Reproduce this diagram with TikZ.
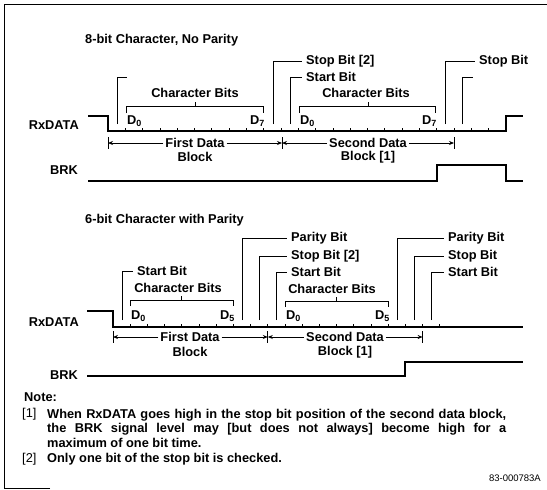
\documentclass[tikz,border=0pt]{standalone}
\usepackage{fontspec}
\setmainfont{Liberation Sans}
\usepackage{tikz}
\usetikzlibrary{arrows.meta}

\tikzset{
  sigline/.style={line width=2.2pt},
  bitmark/.style={line width=0.8pt},
  lbl/.style={font=\bfseries\fontsize{12.8}{14.5}\selectfont, inner sep=0pt},
  tag/.style={lbl, anchor=west, inner xsep=4pt},
  span/.style={line width=0.8pt, -{Stealth[length=5pt, width=4pt]}},
}

\begin{document}
\begin{tikzpicture}[x=1pt, y=-1pt]
    \useasboundingbox (0,0) rectangle (547,490);

    % Frame
    \draw[line width=1pt] (50,488) -- (4,488) -- (4,4) -- (547,4);

    % Title (top)
    \node[lbl, anchor=west] (title1) at (85,40) {8-bit Character, No Parity};

    % Signal names (top)
    \node[lbl, anchor=east] (rx1) at (79,125) {RxDATA};
    \node[lbl, anchor=east] (brk1) at (78,170) {BRK};

    % RxDATA (top)
    \draw[sigline] (88,116) -- (108,116) -- (108,131) -- (506,131) -- (506,116) -- (523,116);
    \draw[bitmark] (125.3,131) -- ++(0,-3) (142.6,131) -- ++(0,-3) (159.9,131) -- ++(0,-3)
        (177.2,131) -- ++(0,-3) (194.5,131) -- ++(0,-3) (211.8,131) -- ++(0,-3)
        (229.1,131) -- ++(0,-3) (246.4,131) -- ++(0,-3) (263.7,131) -- ++(0,-3)
        (281,131) -- ++(0,-3) (298.3,131) -- ++(0,-3) (315.6,131) -- ++(0,-3)
        (332.9,131) -- ++(0,-3) (350.2,131) -- ++(0,-3) (367.5,131) -- ++(0,-3)
        (384.8,131) -- ++(0,-3) (402.1,131) -- ++(0,-3) (419.4,131) -- ++(0,-3)
        (436.7,131) -- ++(0,-3) (454,131) -- ++(0,-3) (471.3,131) -- ++(0,-3)
        (488.6,131) -- ++(0,-3);

    % BRK (top)
    \draw[sigline] (88,181) -- (437,181) -- (437,165) -- (506,165) -- (506,181) -- (523,181);

    % Bit markers (top)
    \node[tag] (stopa) at (302,61) {Stop Bit [2]};
    \node[tag] (starta) at (302,77) {Start Bit};
    \node[tag] (stopb) at (475,61) {Stop Bit};
    \draw[bitmark] (117,124) -- (117,77) -- (127,77);
    \draw[bitmark] (273,124) |- (stopa.west);
    \draw[bitmark] (290,124) |- (starta.west);
    \draw[bitmark] (445,124) |- (stopb.west);
    \draw[bitmark] (462,124) -- (462,77) -- (473,77);

    % Character bits (top)
    \draw[bitmark] (126,113) -- (126,106) -- (263,106) -- (263,113) (195,106) -- (195,102);
    \draw[bitmark] (299,113) -- (299,106) -- (435,106) -- (435,113) (368,106) -- (368,102);
    \node[lbl] (cba) at (195,93) {Character Bits};
    \node[lbl] (cbb) at (366,93) {Character Bits};
    \node[lbl, anchor=west] (d0a) at (127,121) {D\textsubscript{0}};
    \node[lbl, anchor=east] (d7a) at (265,121) {D\textsubscript{7}};
    \node[lbl, anchor=west] (d0b) at (300,121) {D\textsubscript{0}};
    \node[lbl, anchor=east] (d7b) at (437,121) {D\textsubscript{7}};

    % Data blocks (top)
    \coordinate (ba) at (108,143);
    \coordinate (bb) at (282,143);
    \coordinate (bc) at (454,143);
    \draw[bitmark] (108,137) -- (108,149) (282,137) -- (282,149) (454,137) -- (454,149);
    \node[lbl, inner xsep=2pt] (fda) at (195,143) {First Data};
    \node[lbl] (fdb) at (195,157) {Block};
    \node[lbl, inner xsep=2pt] (sda) at (368,143) {Second Data};
    \node[lbl] (sdb) at (368,157) {Block [1]};
    \draw[span] (fda) -- (ba);
    \draw[span] (fda) -- (bb);
    \draw[span] (sda) -- (bb);
    \draw[span] (sda) -- (bc);

    % Title (bottom)
    \node[lbl, anchor=west] (title2) at (85,220) {6-bit Character with Parity};

    % Signal names (bottom)
    \node[lbl, anchor=east] (rx2) at (79,322) {RxDATA};
    \node[lbl, anchor=east] (brk2) at (78,375) {BRK};

    % RxDATA (bottom)
    \draw[sigline] (87,311) -- (113,311) -- (113,327) -- (523,327);
    \draw[bitmark] (130.2,327) -- ++(0,-3) (147.4,327) -- ++(0,-3) (164.6,327) -- ++(0,-3)
        (181.8,327) -- ++(0,-3) (199,327) -- ++(0,-3) (216.2,327) -- ++(0,-3)
        (233.4,327) -- ++(0,-3) (250.6,327) -- ++(0,-3) (267.8,327) -- ++(0,-3)
        (285,327) -- ++(0,-3) (302.2,327) -- ++(0,-3) (319.4,327) -- ++(0,-3)
        (336.6,327) -- ++(0,-3) (353.8,327) -- ++(0,-3) (371,327) -- ++(0,-3)
        (388.2,327) -- ++(0,-3) (405.4,327) -- ++(0,-3) (422.6,327) -- ++(0,-3)
        (439.8,327) -- ++(0,-3);

    % BRK (bottom)
    \draw[sigline] (87,376) -- (405,376) -- (405,362) -- (523,362);

    % Bit markers (bottom)
    \node[tag] (startc) at (133,271) {Start Bit};
    \node[tag] (parc) at (287,238) {Parity Bit};
    \node[tag] (stopc) at (287,256) {Stop Bit [2]};
    \node[tag] (startd) at (287,272) {Start Bit};
    \node[tag] (pard) at (444,238) {Parity Bit};
    \node[tag] (stopd) at (444,256) {Stop Bit};
    \node[tag] (starte) at (444,272) {Start Bit};
    \draw[bitmark] (122,320) |- (startc.west);
    \draw[bitmark] (242,320) |- (parc.west);
    \draw[bitmark] (259,320) |- (stopc.west);
    \draw[bitmark] (276,320) |- (startd.west);
    \draw[bitmark] (397,320) |- (pard.west);
    \draw[bitmark] (414,320) |- (stopd.west);
    \draw[bitmark] (431,320) |- (starte.west);

    % Character bits (bottom)
    \draw[bitmark] (130,306) -- (130,300) -- (233,300) -- (233,306) (181,300) -- (181,296);
    \draw[bitmark] (285,307) -- (285,301) -- (388,301) -- (388,307) (336,301) -- (336,297);
    \node[lbl] (cbc) at (178,288) {Character Bits};
    \node[lbl] (cbd) at (332,289) {Character Bits};
    \node[lbl, anchor=west] (d0c) at (131,316) {D\textsubscript{0}};
    \node[lbl, anchor=east] (d5c) at (235,316) {D\textsubscript{5}};
    \node[lbl, anchor=west] (d0d) at (286,316) {D\textsubscript{0}};
    \node[lbl, anchor=east] (d5d) at (390,316) {D\textsubscript{5}};

    % Data blocks (bottom)
    \coordinate (bd) at (113,337);
    \coordinate (be) at (267.8,337);
    \coordinate (bf) at (422.6,337);
    \draw[bitmark] (113,331) -- (113,343) (267.8,331) -- (267.8,343) (422.6,331) -- (422.6,343);
    \node[lbl, inner xsep=2pt] (fdc) at (190,337) {First Data};
    \node[lbl] (fdd) at (190,352) {Block};
    \node[lbl, inner xsep=2pt] (sdc) at (345,337) {Second Data};
    \node[lbl] (sdd) at (345,352) {Block [1]};
    \draw[span] (fdc) -- (bd);
    \draw[span] (fdc) -- (be);
    \draw[span] (sdc) -- (be);
    \draw[span] (sdc) -- (bf);

    % Notes
    \node[lbl, anchor=west] (note) at (24,397) {Note:};
    \node[anchor=west, inner sep=0pt, font=\fontsize{12.8}{14.5}\selectfont] (n1) at (22,414) {[1]};
    \node[lbl, anchor=north west, text width=459pt, align=justify] (t1) at (47,409)
        {When RxDATA goes high in the stop bit position of the second data block,\linebreak
         the BRK signal level may [but does not always] become high for a\linebreak
         maximum of one bit time.};
    \node[anchor=west, inner sep=0pt, font=\fontsize{12.8}{14.5}\selectfont] (n2) at (22,459) {[2]};
    \node[lbl, anchor=west] (t2) at (47,459) {Only one bit of the stop bit is checked.};
    \node[anchor=east, inner sep=0pt, font=\fontsize{9.5}{11}\selectfont] (fig) at (541,478) {83-000783A};
\end{tikzpicture}
\end{document}
